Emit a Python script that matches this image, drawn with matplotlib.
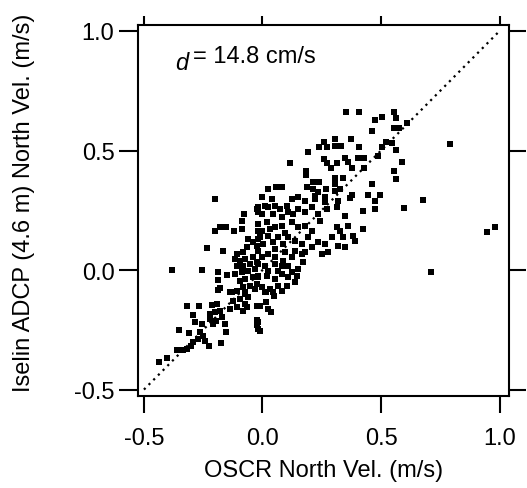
import matplotlib as mpl
import matplotlib.pyplot as plt
import numpy as np

mpl.rcParams["font.family"] = ["Liberation Sans", "DejaVu Sans"]
mpl.rcParams["font.size"] = 17

# OSCR north velocity (m/s) vs Iselin ADCP (4.6 m) north velocity (m/s)
oscr_v = [
    0.354, 0.406, 0.473, 0.506, 0.463, 0.306, 0.260, 0.237, 0.271, 0.306,
    0.330, 0.373, 0.407, 0.503, 0.191, 0.258, 0.273, 0.314, 0.349, 0.362,
    0.404, 0.430, 0.115, 0.379, 0.430, 0.289, 0.184, 0.185, 0.463, 0.307,
    0.338, 0.213, 0.238, 0.022, 0.057, 0.081, 0.187, 0.214, 0.235, 0.222,
    0.267, 0.306, 0.327, 0.306, 0.379, 0.444, 0.496, 0.149, 0.264,
    0.554, 0.564, 0.610, 0.554, 0.577, 0.520, 0.545, 0.563, 0.791, 0.589,
    0.555, 0.563, 0.487,
    0.676, 0.597, 0.981, 0.946, 0.711,
    -0.199, -0.079, -0.020, -0.020, -0.179, -0.154, -0.202, -0.120, -0.087, -0.087,
    -0.018, -0.018, -0.234, -0.168, -0.060, -0.039, -0.064, -0.024, -0.018, -0.109,
    -0.081, -0.116, -0.095, -0.074, -0.039, -0.109, -0.081, -0.053, -0.024, -0.116,
    -0.088, -0.060, -0.032, -0.095, -0.074, -0.039, -0.018, -0.081, -0.053, -0.024,
    -0.074, -0.382, -0.255, -0.188, -0.149, -0.188, -0.179, -0.127,
    0.011, 0.102, 0.151, 0.179, 0.222, 0.264, 0.320, 0.369, 0.475, 0.475,
    0.425, -0.025, 0.025, 0.081, 0.109, 0.151, 0.179, 0.208, 0.236, 0.271,
    0.313, 0.348, -0.018, 0.018, 0.053, 0.081, 0.123, 0.151, 0.179, 0.208,
    0.243, 0.313, 0.362, 0.425, 0.292, 0.327, 0.341, 0.383, -0.011, 0.025,
    0.067, 0.109, 0.137, 0.165, 0.193, 0.236, 0.264, 0.320, 0.348, 0.390,
    -0.018, 0.025, 0.053, 0.095, 0.137, 0.179, 0.250, 0.278, -0.018, 0.011,
    0.053, 0.088, 0.109, 0.151, 0.172, -0.018, 0.018, 0.053, 0.081, 0.109,
    0.144, -0.002, 0.032, 0.067, 0.102, 0.011,
    -0.186, -0.137, -0.109, -0.074, -0.032, -0.123, -0.095, -0.074, -0.060, -0.109,
    -0.081, -0.137, -0.067, -0.320, -0.268, -0.292, -0.214, -0.191, -0.222, -0.200,
    -0.179, -0.222, -0.196, -0.172, -0.208, -0.158, -0.154, -0.025, -0.018, -0.018,
    -0.285, -0.257, -0.352, -0.310, -0.264, -0.252, -0.271, -0.243, -0.295, -0.302,
    -0.362, -0.337, -0.317, -0.225, -0.177, -0.437, -0.404,
    0.015, 0.049, 0.015, -0.011, 0.022, 0.035, -0.025, -0.025, -0.012,
    -0.003, 0.039, 0.053, -0.003, 0.046, 0.074, 0.123, 0.130, -0.003, 0.032,
    0.095, 0.004, 0.046, 0.088, -0.003, 0.053, 0.123, 0.081, 0.025, 0.067,
    0.123, 0.165, 0.208, 0.137, 0.046, 0.081,
]
adcp_v = [
    0.661, 0.661, 0.626, 0.641, 0.581, 0.548, 0.536, 0.515, 0.515, 0.520,
    0.520, 0.548, 0.515, 0.515, 0.494, 0.463, 0.447, 0.447, 0.467, 0.453,
    0.469, 0.469, 0.449, 0.428, 0.428, 0.428, 0.414, 0.398, 0.362, 0.383,
    0.383, 0.369, 0.369, 0.337, 0.348, 0.348, 0.348, 0.339, 0.325, 0.311,
    0.337, 0.359, 0.339, 0.331, 0.314, 0.314, 0.314, 0.306, 0.306,
    0.661, 0.637, 0.615, 0.595, 0.595, 0.536, 0.531, 0.503, 0.527, 0.450,
    0.415, 0.380, 0.477,
    0.293, 0.259, 0.181, 0.160, -0.007,
    0.296, 0.233, 0.262, 0.241, 0.181, 0.181, 0.163, 0.163, 0.170, 0.204,
    0.192, 0.164, 0.093, 0.079, 0.130, 0.116, 0.095, 0.102, 0.130, 0.067,
    0.076, 0.046, 0.039, 0.046, 0.053, 0.018, 0.018, 0.025, 0.032, -0.017,
    -0.010, -0.003, 0.004, -0.045, -0.038, -0.031, -0.024, -0.072, -0.066, -0.059,
    -0.093, 0.000, 0.000, -0.007, -0.021, -0.042, -0.075, -0.093,
    0.269, 0.269, 0.304, 0.290, 0.297, 0.283, 0.290, 0.301, 0.290, 0.255,
    0.248, 0.255, 0.262, 0.220, 0.241, 0.255, 0.241, 0.262, 0.234, 0.255,
    0.262, 0.227, 0.192, 0.199, 0.178, 0.185, 0.199, 0.178, 0.185, 0.164,
    0.206, 0.178, 0.185, 0.171, 0.137, 0.164, 0.137, 0.143, 0.137, 0.143,
    0.137, 0.137, 0.123, 0.109, 0.137, 0.116, 0.109, 0.102, 0.095, 0.123,
    0.081, 0.067, 0.088, 0.074, 0.081, 0.074, 0.067, 0.074, 0.025, 0.018,
    0.025, 0.039, 0.018, 0.004, 0.032, -0.031, -0.024, -0.038, -0.017, -0.031,
    -0.024, -0.072, -0.079, -0.066, -0.066, -0.093,
    -0.084, -0.093, -0.086, -0.100, -0.079, -0.128, -0.121, -0.142, -0.114, -0.156,
    -0.170, -0.163, -0.156, -0.152, -0.152, -0.187, -0.146, -0.142, -0.184, -0.177,
    -0.170, -0.205, -0.212, -0.198, -0.226, -0.226, -0.261, -0.152, -0.219, -0.247,
    -0.219, -0.226, -0.249, -0.263, -0.258, -0.275, -0.288, -0.295, -0.300, -0.319,
    -0.333, -0.333, -0.330, -0.319, -0.305, -0.383, -0.368,
    -0.093, -0.107, -0.132, -0.152, -0.163, -0.176, -0.208, -0.229, -0.254,
    0.304, 0.297, 0.269, 0.234, 0.234, 0.255, 0.297, 0.234, 0.164, 0.171,
    0.157, 0.109, 0.116, 0.109, 0.053, 0.053, 0.053, 0.018, -0.003, -0.003,
    -0.010, 0.067, 0.095, -0.051, -0.093, -0.086,
]

one_to_one = [-0.5, 1.0]
ticks = [-0.5, 0.0, 0.5, 1.0]
tick_labels = ["-0.5", "0.0", "0.5", "1.0"]
rms_label = "= 14.8 cm/s"

fig = plt.figure(figsize=(5.27, 4.89), dpi=100)
ax = fig.add_axes([0.2619, 0.1881, 0.704, 0.7587])

# 1:1 reference line, square dots
ax.plot(one_to_one, one_to_one, color="black", lw=1.6,
        linestyle=(0, (1, 2)), dash_capstyle="butt", zorder=1)
ax.plot(oscr_v, adcp_v, linestyle="none", marker="s", markersize=4.3,
        markerfacecolor="black", markeredgewidth=0, zorder=2)

ax.set_xlim(-0.525, 1.04)
ax.set_ylim(-0.527, 1.025)
ax.set_xticks(ticks)
ax.set_yticks(ticks)
ax.set_xticklabels(tick_labels)
ax.set_yticklabels(tick_labels)

for s in ax.spines.values():
    s.set_linewidth(1.5)
ax.tick_params(axis="both", which="major", width=1.5, color="black")
ax.tick_params(axis="x", direction="out", length=12.5, pad=10, top=True, labeltop=False)
ax.tick_params(axis="y", direction="out", length=13.5, pad=3.5, right=True, labelright=False)
for t in ax.xaxis.get_major_ticks():
    t.tick2line.set_markersize(6.5)
for t in ax.yaxis.get_major_ticks():
    t.tick2line.set_markersize(12.5)

ax.set_xlabel("OSCR North Vel. (m/s)")
ax.xaxis.set_label_coords(0.5, -0.17)
ax.set_ylabel("Iselin ADCP (4.6 m) North Vel. (m/s)")
ax.yaxis.set_label_coords(-0.278, 0.523)

ax.text(0.0997, 0.881, "d", style="italic", transform=ax.transAxes,
        ha="left", va="baseline")
ax.text(0.148, 0.899, rms_label, transform=ax.transAxes,
        ha="left", va="baseline")

fig.savefig("out.png", dpi=100)
